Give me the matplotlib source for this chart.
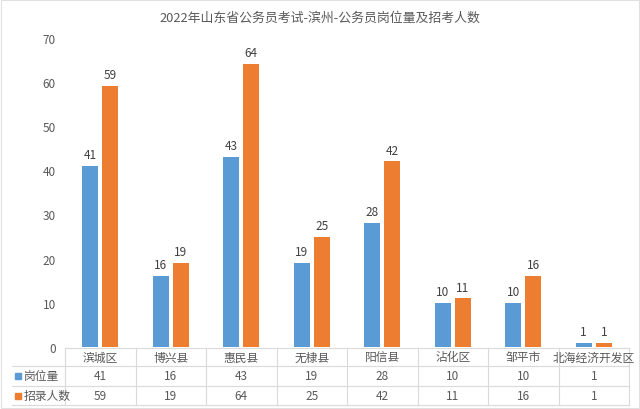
import numpy as np
import matplotlib
matplotlib.use("Agg")
import matplotlib.pyplot as plt
import matplotlib.transforms as mtransforms
from matplotlib.lines import Line2D
from matplotlib.patches import Rectangle

plt.rcParams['font.family'] = ['Noto Sans CJK SC', 'DejaVu Sans']
plt.rcParams['axes.unicode_minus'] = False

# 数据
regions = ['滨城区', '博兴县', '惠民县', '无棣县', '阳信县', '沾化区', '邹平市', '北海经济开发区']
posts = [41, 16, 43, 19, 28, 10, 10, 1]        # 岗位量
recruits = [59, 19, 64, 25, 42, 11, 16, 1]     # 招录人数
series_names = ['岗位量', '招录人数']
colors = ['#5B9BD5', '#ED7D31']
title = '2022年山东省公务员考试-滨州-公务员岗位量及招考人数'

W, H = 640, 410
fig = plt.figure(figsize=(W / 100, H / 100), dpi=100)
ax = fig.add_axes([65 / W, (H - 348) / H, (629 - 65) / W, (348 - 38.7) / H])

x = np.arange(len(regions))
bw = 0.23
off = 0.142
text_gray = '#595959'
line_gray = '#DADADA'

for vals, dx, c in [(posts, -off, colors[0]), (recruits, off, colors[1])]:
    bars = ax.bar(x + dx, vals, width=bw, color=c, zorder=2)
    ax.bar_label(bars, labels=[str(v) for v in vals], padding=3.5,
                 fontsize=8.5, color='#404040')

ax.set_xlim(-0.5, len(regions) - 0.5)
ax.set_ylim(0, 70)
ax.set_yticks(range(0, 71, 10))
ax.tick_params(axis='y', length=0, labelsize=8.5, labelcolor=text_gray, pad=6.5)
ax.set_xticks([])
for s in ['top', 'right', 'left', 'bottom']:
    ax.spines[s].set_visible(False)

fig.text(0.5, (H - 18) / H, title, ha='center', va='center',
         fontsize=9.3, color=text_gray)

# 数据表
tr = mtransforms.blended_transform_factory(ax.transData, fig.transFigure)
fy = lambda px: (H - px) / H
row_lines = [349, 367, 387, 406]
row_centers = [358, 377, 396.5]

fig.add_artist(Line2D([65 / W, 629 / W], [fy(349), fy(349)], color=line_gray, lw=0.8))
for yl in row_lines[1:]:
    fig.add_artist(Line2D([12 / W, 629 / W], [fy(yl), fy(yl)], color=line_gray, lw=0.8))
for k in range(len(regions) + 1):
    xb = k - 0.5
    fig.add_artist(Line2D([xb, xb], [fy(349), fy(406)], color=line_gray, lw=0.8,
                          transform=tr))

for i, name in enumerate(regions):
    fig.text(i, fy(row_centers[0]), name, transform=tr, ha='center', va='center',
             fontsize=8.5, color=text_gray)
    fig.text(i, fy(row_centers[1]), str(posts[i]), transform=tr, ha='center',
             va='center', fontsize=8.5, color=text_gray)
    fig.text(i, fy(row_centers[2]), str(recruits[i]), transform=tr, ha='center',
             va='center', fontsize=8.5, color=text_gray)

for j, (name, c) in enumerate(zip(series_names, colors)):
    yc = row_centers[j + 1]
    fig.add_artist(Rectangle((15 / W, fy(yc + 3)), 6 / W, 6 / H, color=c))
    fig.text(24 / W, fy(yc), name, ha='left', va='center', fontsize=8.5,
             color=text_gray)

fig.add_artist(Rectangle((1 / W, 1 / H), (W - 2) / W, (H - 2) / H, fill=False,
                         edgecolor='#E0E0E0', lw=0.8))

fig.savefig('out.png', dpi=100)
